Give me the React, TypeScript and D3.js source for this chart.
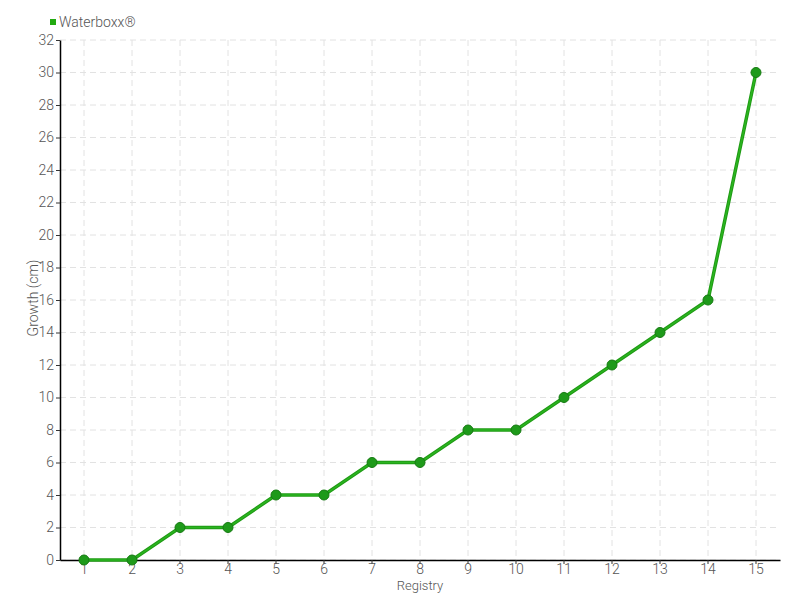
import React, { useEffect, useRef } from "react";
import * as d3 from "d3";

const categories = ["1","2","3","4","5","6","7","8","9","10","11","12","13","14","15"];
const values = [0,0,2,2,4,4,6,6,8,8,10,12,14,16,30];
const yTicks = [0,2,4,6,8,10,12,14,16,18,20,22,24,26,28,30,32];
const seriesName = "Waterboxx®";

export default function App() {
  const ref = useRef<SVGSVGElement>(null);
  useEffect(() => {
    const svg = d3.select(ref.current);
    svg.selectAll("*").remove();
    const left = 60, right = 780, top = 40, bottom = 560;
    const font = "Roboto, 'Noto Sans', sans-serif";
    const x = d3.scaleBand<string>().domain(categories).range([left, right]);
    const y = d3.scaleLinear().domain([0, 32]).range([bottom, top]);
    const cx = (c: string) => (x(c) as number) + x.bandwidth() / 2;

    const grid = svg.append("g");
    yTicks.forEach(t => {
      grid.append("line").attr("x1", left).attr("x2", right).attr("y1", y(t)).attr("y2", y(t))
        .attr("stroke", "#e2e2e2").attr("stroke-dasharray", "6,4");
    });
    categories.forEach(c => {
      grid.append("line").attr("x1", cx(c)).attr("x2", cx(c)).attr("y1", top).attr("y2", bottom)
        .attr("stroke", "#e2e2e2").attr("stroke-dasharray", "6,4");
    });

    const yAxis = svg.append("g").attr("transform", `translate(${left},0)`)
      .call(d3.axisLeft(y).tickValues(yTicks).tickSize(4).tickSizeOuter(0));
    yAxis.select(".domain").attr("stroke", "#000").attr("stroke-width", 1.5);
    yAxis.selectAll(".tick line").attr("stroke", "#333");
    yAxis.selectAll("text").attr("font-family", font).attr("font-weight", 300).attr("font-size", 14).attr("fill", "#555").attr("x", -6);

    const xAxis = svg.append("g").attr("transform", `translate(0,${bottom})`)
      .call(d3.axisBottom(x).tickSize(4).tickSizeOuter(0));
    xAxis.select(".domain").attr("stroke", "#000").attr("stroke-width", 1.5);
    xAxis.selectAll(".tick line").attr("stroke", "#333");
    xAxis.selectAll("text").attr("font-family", font).attr("font-weight", 300).attr("font-size", 14).attr("fill", "#555").attr("y", 4).attr("dy", "0.71em");

    const line = d3.line<number>().x((_, i) => cx(categories[i])).y(d => y(d));
    svg.append("path").datum(values).attr("d", line).attr("fill", "none")
      .attr("stroke", "#1f9a14").attr("stroke-width", 3.5);
    svg.append("path").datum(values).attr("d", line).attr("fill", "none")
      .attr("stroke", "#2bb520").attr("stroke-width", 1.5);
    svg.selectAll("circle.pt").data(values).enter().append("circle")
      .attr("cx", (_, i) => cx(categories[i])).attr("cy", d => y(d)).attr("r", 5)
      .attr("fill", "#1e9a1a").attr("stroke", "#167a12").attr("stroke-width", 1);

    svg.append("rect").attr("x", 50).attr("y", 19).attr("width", 6).attr("height", 6).attr("fill", "#22aa11");
    svg.append("text").attr("x", 59).attr("y", 27).text(seriesName)
      .attr("font-family", font).attr("font-weight", 300).attr("font-size", 14).attr("fill", "#555");

    svg.append("text").attr("x", 420).attr("y", 590).attr("text-anchor", "middle").text("Registry")
      .attr("font-family", font).attr("font-weight", 300).attr("font-size", 13).attr("fill", "#555");
    svg.append("text").attr("transform", "translate(38,298) rotate(-90)").attr("text-anchor", "middle")
      .text("Growth (cm)").attr("font-family", font).attr("font-weight", 300).attr("font-size", 14).attr("fill", "#555");
  }, []);
  return (
    <svg ref={ref} width={800} height={600} style={{ position: "absolute", left: 0, top: 0, background: "#fff" }} />
  );
}
